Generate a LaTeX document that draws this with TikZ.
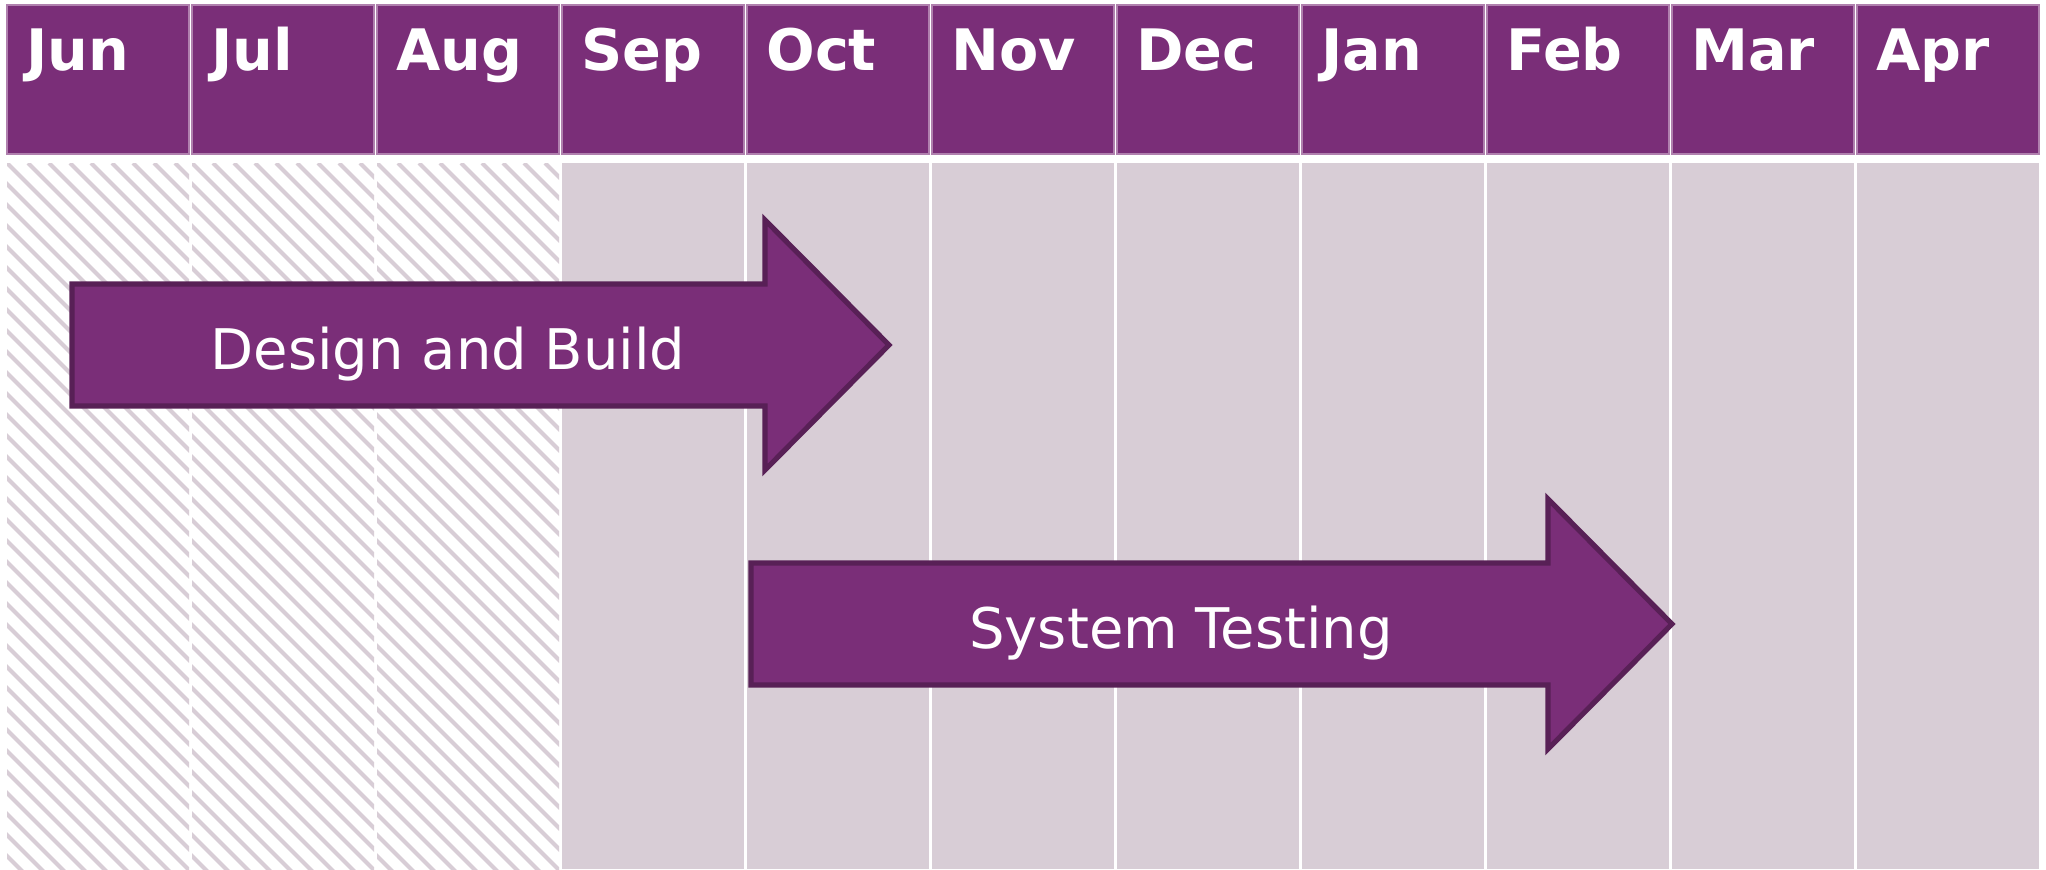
\documentclass[tikz,border=0pt]{standalone}
\usepackage{fontspec}
\setmainfont{DejaVu Sans}
\definecolor{plum}{RGB}{122,46,120}
\definecolor{plumdark}{RGB}{88,32,86}
\definecolor{plumedge}{RGB}{176,128,174}
\definecolor{lilac}{RGB}{216,205,214}
\begin{document}
\begin{tikzpicture}[x=0.5pt,y=-0.5pt,
  monthbox/.style={fill=plum,draw=plumedge,line width=0.6pt},
  monthlabel/.style={anchor=base west,text=white,inner sep=0,font=\fontsize{28.6}{34}\selectfont\bfseries},
  hatchline/.style={draw=lilac,line width=2.1pt},
  taskarrow/.style={fill=plum,draw=plumdark,line width=2.6pt,line join=miter},
  tasklabel/.style={anchor=base,text=white,inner sep=0,font=\fontsize{28}{34}\selectfont}]
\useasboundingbox[fill=white] (0,0) rectangle (2046,869);
% month columns
\foreach \m [count=\i from 0] in {Jun,Jul,Aug,Sep,Oct,Nov,Dec,Jan,Feb,Mar,Apr}
{\pgfmathsetmacro{\xl}{7+185*\i}
 \draw[monthbox] (\xl,5) rectangle ++(182,149);
 \node[monthlabel] (\m) at (\xl+19,70) {\m};
 \ifnum\i<3
  \begin{scope}
   \clip (\xl,163) rectangle ++(182,706);
   \foreach \s in {-735,-714,...,200}
     \draw[hatchline] (\xl+\s,163) -- ++(740,740);
  \end{scope}
 \else
  \fill[lilac] (\xl,163) rectangle ++(182,706);
 \fi
}
% tasks
\foreach \xa/\xb/\yc/\txt/\xt [count=\k] in {72/765/345/Design and Build/448,751/1548/624/System Testing/1181}
{\draw[taskarrow] (\xa,\yc-61) -- (\xb,\yc-61) -- (\xb,\yc-125) -- (\xb+124,\yc)
   -- (\xb,\yc+125) -- (\xb,\yc+61) -- (\xa,\yc+61) -- cycle;
 \node[tasklabel] (task\k) at (\xt,\yc+24) {\txt};
}
\end{tikzpicture}
\end{document}
